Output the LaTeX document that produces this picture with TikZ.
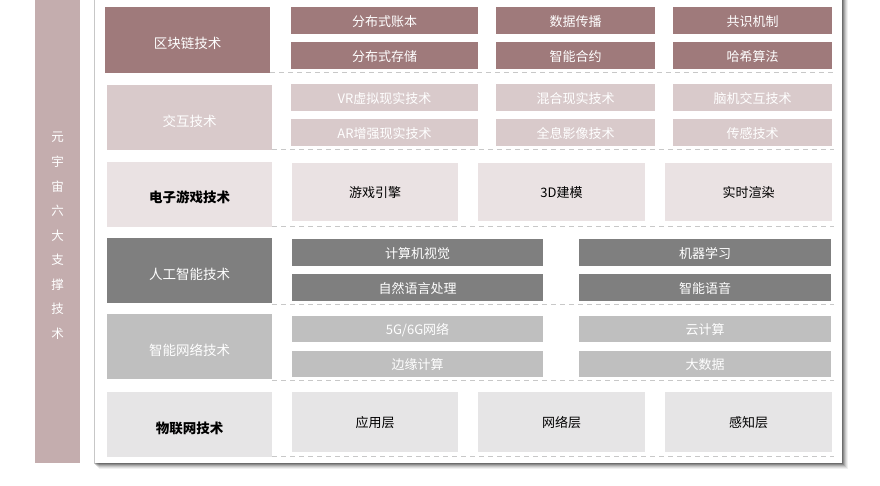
\documentclass[tikz,border=0pt]{standalone}
\usepackage{fontspec}
\setmainfont{Noto Sans CJK SC}
\newfontfamily\cjk{Noto Sans CJK SC}
\definecolor{barc}{HTML}{C4ADAE}
\definecolor{cA}{HTML}{9F7A7B}
\definecolor{cB}{HTML}{D9CACB}
\definecolor{cC}{HTML}{EAE2E3}
\definecolor{cD}{HTML}{7F7F7F}
\definecolor{cE}{HTML}{BFBFBF}
\definecolor{cF}{HTML}{E6E5E6}
\definecolor{dashc}{HTML}{C8C8C8}
\newcommand\bx[8]{%
  \pgfmathsetmacro\cxx{(#2+#4)/2}\pgfmathsetmacro\cyy{(#3+#5)/2}%
  \pgfmathsetmacro\ww{#4-#2}\pgfmathsetmacro\hh{#5-#3}%
  \node[cell,#6,minimum width=\ww pt,minimum height=\hh pt] (#1) at (\cxx,\cyy) {\raisebox{#8}[\height][\depth]{#7}};}
\begin{document}
\begin{tikzpicture}[x=1pt,y=-1pt,
  cell/.style={inner sep=0pt,outer sep=0pt,draw=none,font=\cjk\fontsize{13}{15}\selectfont},
  lab/.style={font=\cjk\fontsize{13.5}{15}\selectfont},
  sA/.style={fill=cA,text=white},
  sB/.style={fill=cB,text=white},
  sC/.style={fill=cC,text=black},
  sD/.style={fill=cD,text=white},
  sE/.style={fill=cE,text=white},
  sF/.style={fill=cF,text=black},
  sep/.style={draw=dashc,line width=1pt,dash pattern=on 5pt off 4pt}]
\useasboundingbox (0,0) rectangle (880,486);
\fill[white] (0,0) rectangle (880,486);
% left bar
\fill[barc] (35,-2) rectangle (80,463);
\foreach \c [count=\i from 0] in {元,宇,宙,六,大,支,撑,技,术}{
  \node[cell,text=white,font=\cjk\fontsize{12.5}{14}\selectfont] (v\i) at (57.5,{137+\i*24.6}) {\c};}
% panel shadow
\foreach \o/\op in {6/0.06,5/0.08,4/0.1,3/0.14,2/0.18,1/0.22}{
  \fill[black,opacity=\op] (95+\o-2,-10) rectangle (842+\o,463+\o);}
\fill[white] (95,-10) rectangle (842,463);
% row 1
\bx{a0}{105}{7}{270}{73}{sA,lab}{区块链技术}{-3.5pt}
\bx{a1}{291}{7}{478}{34}{sA}{分布式账本}{-1pt}
\bx{a2}{496}{7}{655}{34}{sA}{数据传播}{-1pt}
\bx{a3}{673}{7}{832}{34}{sA}{共识机制}{-1pt}
\bx{a4}{291}{42}{478}{69}{sA}{分布式存储}{-1pt}
\bx{a5}{496}{42}{655}{69}{sA}{智能合约}{-1pt}
\bx{a6}{673}{42}{832}{69}{sA}{哈希算法}{-1pt}
\draw[sep] (270,73) -- (834,73);
% row 2
\bx{b0}{107}{85}{272}{150}{sB,lab}{交互技术}{-3.5pt}
\bx{b1}{291}{84}{478}{111}{sB}{VR虚拟现实技术}{-1pt}
\bx{b2}{496}{84}{655}{111}{sB}{混合现实技术}{-1pt}
\bx{b3}{673}{84}{832}{111}{sB}{脑机交互技术}{-1pt}
\bx{b4}{291}{119}{478}{146}{sB}{AR增强现实技术}{-1pt}
\bx{b5}{496}{119}{655}{146}{sB}{全息影像技术}{-1pt}
\bx{b6}{673}{119}{832}{146}{sB}{传感技术}{-1pt}
\draw[sep] (272,150) -- (834,150);
% row 3
\bx{c0}{107}{162}{272}{227}{sC,lab}{\bfseries 电子游戏技术}{-3pt}
\bx{c1}{292}{163}{458}{221}{sC}{游戏引擎}{-1pt}
\bx{c2}{478}{163}{645}{221}{sC}{3D建模}{-1pt}
\bx{c3}{665}{163}{832}{221}{sC}{实时渲染}{-1pt}
\draw[sep] (272,227) -- (834,227);
% row 4
\bx{d0}{107}{238}{272}{303}{sD,lab}{人工智能技术}{-3.5pt}
\bx{d1}{292}{239}{543}{266}{sD}{计算机视觉}{-1pt}
\bx{d2}{579}{239}{831}{266}{sD}{机器学习}{-1pt}
\bx{d3}{292}{274}{543}{301}{sD}{自然语言处理}{-1pt}
\bx{d4}{579}{274}{831}{301}{sD}{智能语音}{-1pt}
\draw[sep] (272,304) -- (834,304);
% row 5
\bx{e0}{107}{314}{272}{379}{sE,lab}{智能网络技术}{-3.5pt}
\bx{e1}{292}{316}{543}{342}{sE}{5G/6G网络}{-1pt}
\bx{e2}{579}{316}{831}{342}{sE}{云计算}{-1pt}
\bx{e3}{292}{351}{543}{377}{sE}{边缘计算}{-1pt}
\bx{e4}{579}{351}{831}{377}{sE}{大数据}{-1pt}
\draw[sep] (272,380) -- (834,380);
% row 6
\bx{f0}{107}{392}{272}{457}{sF,lab}{\bfseries 物联网技术}{-3.5pt}
\bx{f1}{292}{392}{458}{452}{sF}{应用层}{-1pt}
\bx{f2}{478}{392}{645}{452}{sF}{网络层}{-1pt}
\bx{f3}{665}{392}{832}{452}{sF}{感知层}{-1pt}
\draw[sep] (272,456) -- (834,456);
\end{tikzpicture}
\end{document}
